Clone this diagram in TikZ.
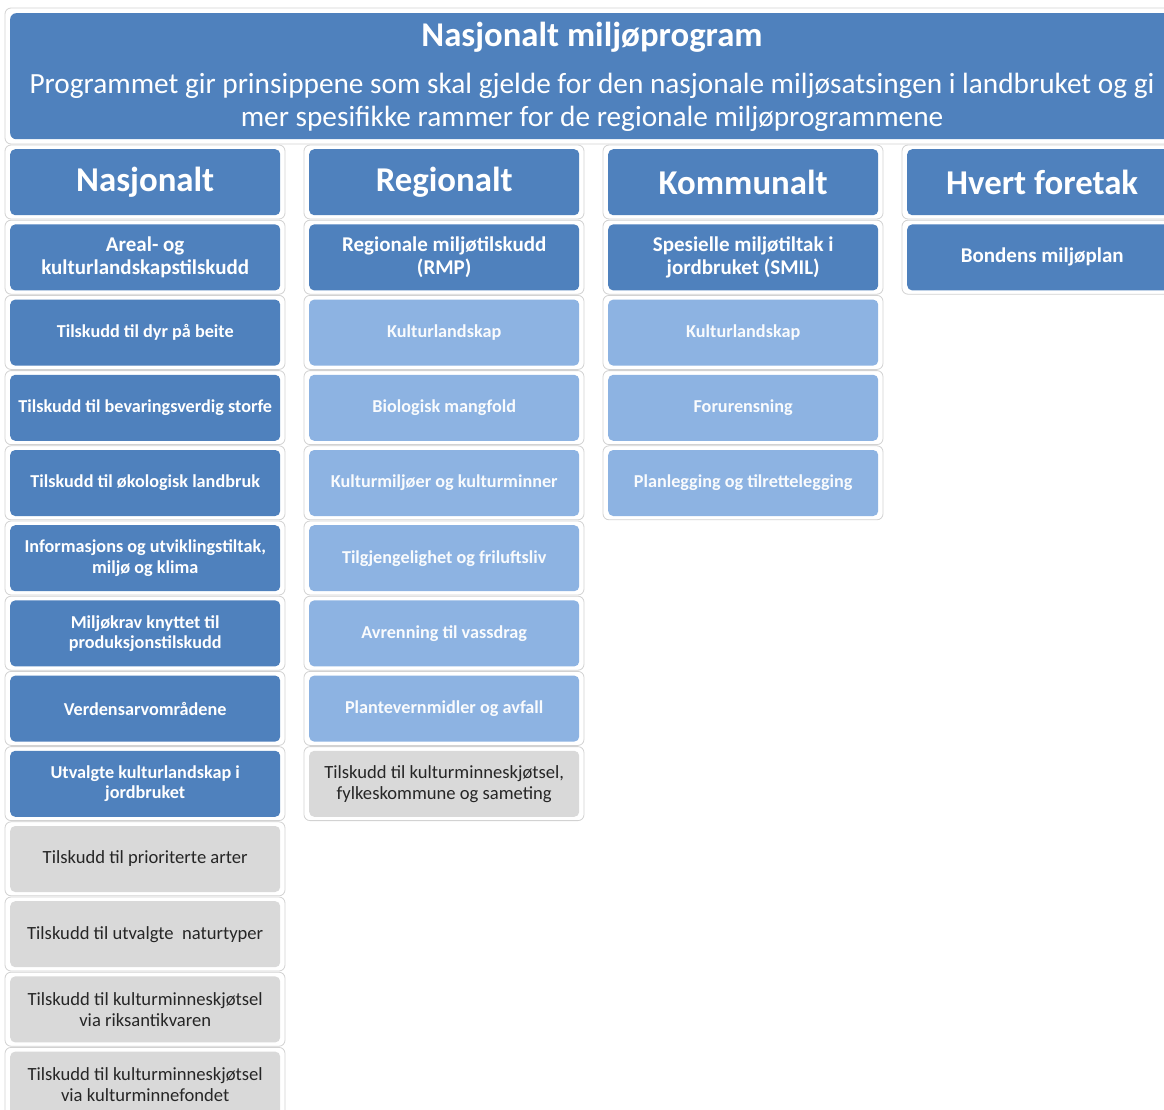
\documentclass[tikz,border=0pt]{standalone}
\usepackage{fontspec}
\setmainfont{Carlito}
\definecolor{dblue}{HTML}{4F81BD}
\definecolor{lblue}{HTML}{8DB3E2}
\definecolor{gbox}{HTML}{D9D9D9}
\definecolor{gtext}{HTML}{262626}
\tikzset{
  frame/.style={draw=gray!35, fill=white, rounded corners=6pt, line width=0.8pt},
  cellbase/.style={rounded corners=5pt, minimum width=270pt, minimum height=66pt, inner sep=2pt, align=flush center, text width=266pt},
  dark/.style={cellbase, fill=dblue, text=white},
  light/.style={cellbase, fill=lblue, text=white!95!lblue},
  grey/.style={cellbase, fill=gbox, text=gtext},
  headf/.style={font=\fontsize{34.8}{37}\selectfont\bfseries},
  subf/.style={font=\fontsize{21}{23}\selectfont\bfseries},
  itemf/.style={font=\fontsize{18.2}{20.5}\selectfont\bfseries},
  gitemf/.style={font=\fontsize{18.6}{21}\selectfont},
}
\newcommand\mycell[5]{%
  \pgfmathsetmacro\cx{10+299*#2}%
  \pgfmathsetmacro\cy{149+75.2*#3}%
  \draw[frame] (\cx-5,\cy-4) rectangle (\cx+275,\cy+70);
  \node[#4, anchor=north west] (#1) at (\cx,\cy) {#5};
}
\begin{document}
\begin{tikzpicture}[x=1pt,y=-1pt]
\useasboundingbox (0,0) rectangle (1164,1110);
\begin{scope}
\clip (0,0) rectangle (1164,1110);
% header
\draw[frame] (5,8) rectangle (1179,144);
\node[rounded corners=6pt, fill=dblue, minimum width=1164pt, minimum height=126pt, inner sep=0pt, anchor=north west] (hdr) at (10,13) {};
\node[text=white, font=\fontsize{34.7}{37}\selectfont\bfseries] (title) at (592,37) {Nasjonalt miljøprogram};
\node[text=white, align=center, font=\fontsize{29.3}{33}\selectfont] (subtitle) at (592,102) {Programmet gir prinsippene som skal gjelde for den nasjonale miljøsatsingen i landbruket og gi\\mer spesifikke rammer for de regionale miljøprogrammene};
% column 1
\mycell{a1}{0}{0}{dark,headf}{Nasjonalt}
\mycell{a2}{0}{1}{dark,subf}{Areal- og\\kulturlandskapstilskudd}
\mycell{a3}{0}{2}{dark,itemf}{Tilskudd til dyr på beite}
\mycell{a4}{0}{3}{dark,itemf}{Tilskudd til bevaringsverdig storfe}
\mycell{a5}{0}{4}{dark,itemf}{Tilskudd til økologisk landbruk}
\mycell{a6}{0}{5}{dark,itemf}{Informasjons og utviklingstiltak,\\miljø og klima}
\mycell{a7}{0}{6}{dark,itemf}{Miljøkrav knyttet til\\produksjonstilskudd}
\mycell{a8}{0}{7}{dark,itemf}{Verdensarvområdene}
\mycell{a9}{0}{8}{dark,itemf}{Utvalgte kulturlandskap i\\jordbruket}
\mycell{a10}{0}{9}{grey,gitemf}{Tilskudd til prioriterte arter}
\mycell{a11}{0}{10}{grey,gitemf}{Tilskudd til utvalgte\ \ naturtyper}
\mycell{a12}{0}{11}{grey,gitemf}{Tilskudd til kulturminneskjøtsel\\via riksantikvaren}
\mycell{a13}{0}{12}{grey,gitemf}{Tilskudd til kulturminneskjøtsel\\via kulturminnefondet}
% column 2
\mycell{b1}{1}{0}{dark,headf}{Regionalt}
\mycell{b2}{1}{1}{dark,subf}{Regionale miljøtilskudd\\(RMP)}
\mycell{b3}{1}{2}{light,itemf}{Kulturlandskap}
\mycell{b4}{1}{3}{light,itemf}{Biologisk mangfold}
\mycell{b5}{1}{4}{light,itemf}{Kulturmiljøer og kulturminner}
\mycell{b6}{1}{5}{light,itemf}{Tilgjengelighet og friluftsliv}
\mycell{b7}{1}{6}{light,itemf}{Avrenning til vassdrag}
\mycell{b8}{1}{7}{light,itemf}{Plantevernmidler og avfall}
\mycell{b9}{1}{8}{grey,gitemf}{Tilskudd til kulturminneskjøtsel,\\fylkeskommune og sameting}
% column 3
\mycell{c1}{2}{0}{dark,headf}{Kommunalt}
\mycell{c2}{2}{1}{dark,subf}{Spesielle miljøtiltak i\\jordbruket (SMIL)}
\mycell{c3}{2}{2}{light,itemf}{Kulturlandskap}
\mycell{c4}{2}{3}{light,itemf}{Forurensning}
\mycell{c5}{2}{4}{light,itemf}{Planlegging og tilrettelegging}
% column 4
\mycell{d1}{3}{0}{dark,headf}{Hvert foretak}
\mycell{d2}{3}{1}{dark,subf}{Bondens miljøplan}
\end{scope}
\end{tikzpicture}
\end{document}
